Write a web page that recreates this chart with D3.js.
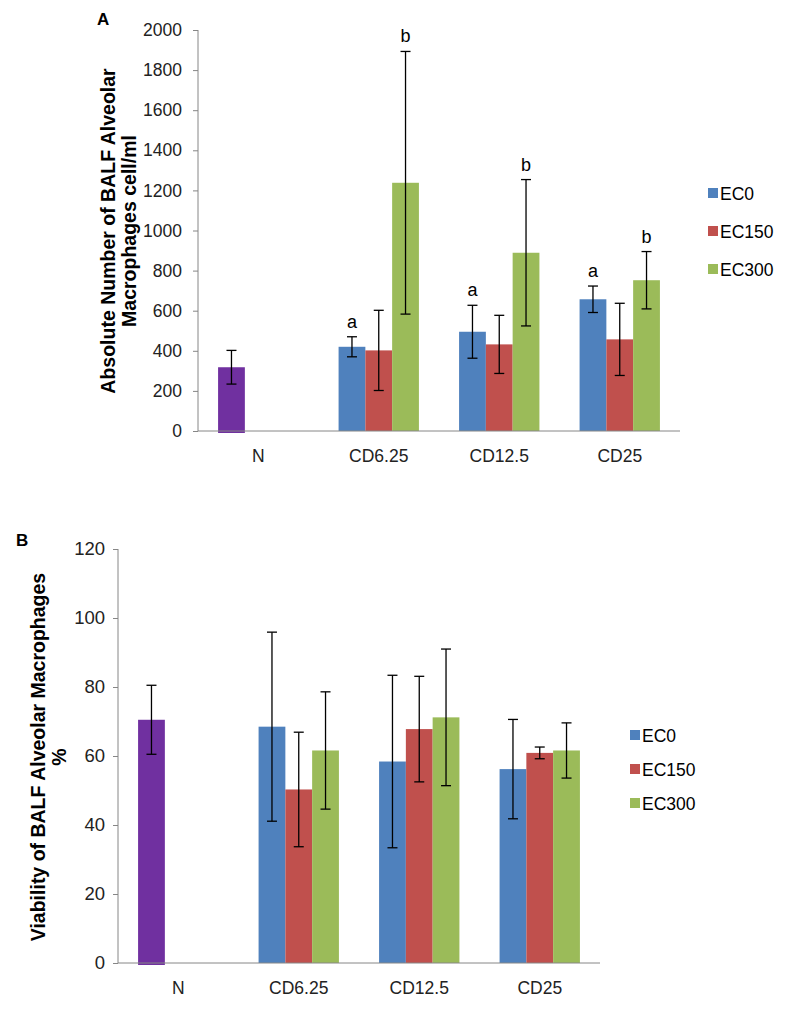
<!DOCTYPE html>
<html>
<head>
<meta charset="utf-8">
<script src="https://cdn.jsdelivr.net/npm/d3@7"></script>
<style>
  body { margin: 0; background: #fff; }
  svg { font-family: "Liberation Sans", Arial, sans-serif; }
  .axis path, .axis line { stroke: #868686; }
  .axis text { fill: #222; }
</style>
</head>
<body>
<svg id="chart" width="797" height="1012"></svg>
<script>
// shared
const categories = ["N", "CD6.25", "CD12.5", "CD25"]
const seriesNames = ["EC0", "EC150", "EC300"]
const seriesColors = ["#4F81BD", "#C0504D", "#9BBB59"]
const controlColor = "#7030A0"

// panel A: absolute number (cell/ml), groups CD6.25, CD12.5, CD25
const aControl = { mean: 318, err: 84 }
const aMeans = {
  EC0:   [420, 495, 657],
  EC150: [402, 432, 457],
  EC300: [1238, 889, 752]
}
const aErrs = {
  EC0:   [50, 132, 66],
  EC150: [200, 145, 180],
  EC300: [655, 365, 143]
}
const aLetters = {
  EC0:   ["a", "a", "a"],
  EC150: ["", "", ""],
  EC300: ["b", "b", "b"]
}
const aTicks = [0, 200, 400, 600, 800, 1000, 1200, 1400, 1600, 1800, 2000]

// panel B: viability %
const bControl = { mean: 70.5, err: 10 }
const bMeans = {
  EC0:   [68.5, 58.4, 56.2],
  EC150: [50.3, 67.8, 60.9],
  EC300: [61.6, 71.2, 61.6]
}
const bErrs = {
  EC0:   [27.4, 25, 14.4],
  EC150: [16.6, 15.3, 1.7],
  EC300: [17, 19.8, 8]
}
const bTicks = [0, 20, 40, 60, 80, 100, 120]

let svg = d3.select("#chart")

let drawPanel = function(cfg){
    let g = svg.append("g")

    let x = d3.scaleBand().domain(categories).range([cfg.left, cfg.right]).padding(0)
    let xs = d3.scaleBand().domain(seriesNames).range([0, x.bandwidth()])
        .paddingInner(0).paddingOuter(0.75)
    let y = d3.scaleLinear().domain([0, cfg.max]).range([cfg.bottom, cfg.top])

    // bars
    let rows = []
    categories.slice(1).forEach((c, ci) => {
        seriesNames.forEach((s, si) => {
            rows.push({ cat: c, s: s, color: seriesColors[si], mean: cfg.means[s][ci], err: cfg.errs[s][ci],
                        letter: cfg.letters ? cfg.letters[s][ci] : "" })
        })
    })
    let ctrl = { cat: "N", s: "EC0", color: controlColor, mean: cfg.control.mean, err: cfg.control.err, letter: "" }
    rows.unshift(ctrl)

    let bx = d => x(d.cat) + xs(d.s)
    let cx = d => bx(d) + xs.bandwidth()/2

    g.selectAll(".bar").data(rows).enter().append("rect")
        .attr("class", "bar")
        .attr("x", bx)
        .attr("width", xs.bandwidth())
        .attr("y", d => y(d.mean))
        .attr("height", d => y(0) - y(d.mean) + (d.cat == "N" ? 2 : 0))
        .attr("fill", d => d.color)

    // axes
    g.append("g").attr("class", "axis")
        .attr("transform", `translate(${cfg.left},0)`)
        .call(d3.axisLeft(y).tickValues(cfg.ticks).tickSize(5).tickPadding(cfg.tickPad).tickFormat(d3.format("d")))
        .call(a => a.select(".domain").attr("d", `M0,${cfg.top}V${cfg.bottom}`))
        .call(a => a.selectAll("text").attr("font-size", cfg.tickFont))

    g.append("line")
        .attr("x1", cfg.left).attr("x2", cfg.right)
        .attr("y1", y(0)).attr("y2", y(0))
        .attr("stroke", "#868686")

    g.selectAll(".catlabel").data(categories).enter().append("text")
        .attr("x", d => x(d) + x.bandwidth()/2)
        .attr("y", cfg.bottom + 31)
        .attr("text-anchor", "middle")
        .attr("font-size", 17.5).attr("fill", "#222")
        .text(d => d)

    // error bars
    let eb = g.selectAll(".eb").data(rows).enter().append("g")
        .attr("stroke", "#000").attr("stroke-width", 1.3)
    eb.append("line").attr("x1", cx).attr("x2", cx)
        .attr("y1", d => y(d.mean + d.err)).attr("y2", d => y(d.mean - d.err))
    eb.append("line").attr("x1", d => cx(d) - 5).attr("x2", d => cx(d) + 5)
        .attr("y1", d => y(d.mean + d.err)).attr("y2", d => y(d.mean + d.err))
    eb.append("line").attr("x1", d => cx(d) - 5).attr("x2", d => cx(d) + 5)
        .attr("y1", d => y(d.mean - d.err)).attr("y2", d => y(d.mean - d.err))

    g.selectAll(".letter").data(rows.filter(d => d.letter)).enter().append("text")
        .attr("x", cx)
        .attr("y", d => y(d.mean + d.err) - 9)
        .attr("text-anchor", "middle")
        .attr("font-size", 18)
        .text(d => d.letter)

    // legend
    let lg = g.selectAll(".lg").data(seriesNames).enter().append("g")
        .attr("transform", (d, i) => `translate(${cfg.legendX},${cfg.legendY + i*cfg.legendStep})`)
    lg.append("rect").attr("x", 0).attr("y", -5).attr("width", 10).attr("height", 10)
        .attr("fill", (d, i) => seriesColors[i])
    lg.append("text").attr("x", 12).attr("y", 6.5).attr("font-size", 17.5).text(d => d)

    // panel letter and y title
    g.append("text").attr("x", cfg.labelX).attr("y", cfg.labelY)
        .attr("font-weight", "bold").attr("font-size", 17).text(cfg.label)

    let t = g.append("text")
        .attr("transform", `translate(${cfg.titleX},${cfg.titleY}) rotate(-90)`)
        .attr("text-anchor", "middle").attr("font-weight", "bold").attr("font-size", 19.5)
    cfg.title.forEach((line, i) => {
        t.append("tspan").attr("x", 0).attr("dy", i == 0 ? 0 : 21).text(line)
    })
}

drawPanel({
    left: 198, right: 680, top: 30, bottom: 431, max: 2000,
    ticks: aTicks, tickFont: 17.5, tickPad: 11,
    control: aControl, means: aMeans, errs: aErrs, letters: aLetters,
    legendX: 708, legendY: 193, legendStep: 38,
    label: "A", labelX: 97, labelY: 25,
    title: ["Absolute Number of BALF Alveolar", "Macrophages cell/ml"], titleX: 115, titleY: 231
})

drawPanel({
    left: 118, right: 600, top: 549, bottom: 963, max: 120,
    ticks: bTicks, tickFont: 18.5, tickPad: 8,
    control: bControl, means: bMeans, errs: bErrs, letters: null,
    legendX: 630, legendY: 735, legendStep: 34,
    label: "B", labelX: 16, labelY: 546,
    title: ["Viability of BALF Alveolar Macrophages", "%"], titleX: 45, titleY: 757
})
</script>
</body>
</html>
